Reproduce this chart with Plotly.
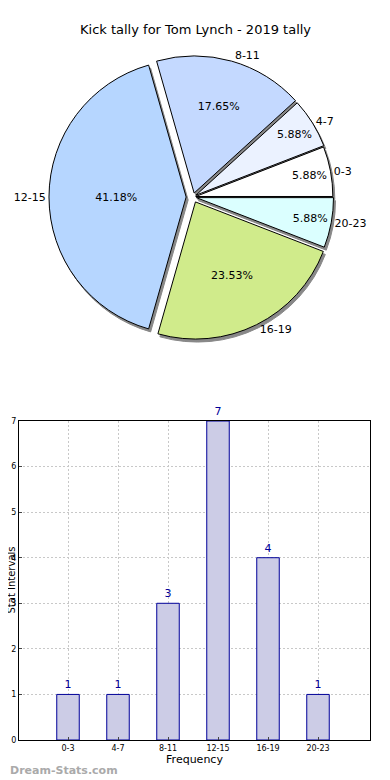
import plotly.graph_objects as go

categories = ["0-3", "4-7", "8-11", "12-15", "16-19", "20-23"]
counts = [1, 1, 3, 7, 4, 1]
y_ticks = [0, 1, 2, 3, 4, 5, 6, 7]

pie_colors = ["#FFFFFF", "#EBF2FF", "#C4D9FF", "#B6D6FF", "#D0EB8B", "#DBFFFF"]
pulls = [0.02, 0.025, 0.03, 0.05, 0.04, 0.025]

# The page body has an 8px default margin; size the figure to fit the 390x780 window.
OFF = 8
W, H = 390 - OFF, 780 - OFF
fnt = "DejaVu Sans"

def px(x):
    return (x - OFF) / W

def py(y):
    return 1 - (y - OFF) / H

rot = 90 - 360.0 * counts[0] / sum(counts)

cx, cy, r = 193, 197, 144
def dom(dx=0, dy=0):
    return dict(x=[px(cx - r + dx), px(cx + r + dx)],
                y=[py(cy + r + dy), py(cy - r + dy)])

common = dict(labels=categories, values=counts, sort=False, direction="counterclockwise",
              rotation=rot, pull=pulls)

fig = go.Figure()
# shadow
fig.add_trace(go.Pie(
    **common, domain=dom(2, 3),
    marker=dict(colors=["#888888"] * 6, line=dict(color="#888888", width=1)),
    textinfo="none", hoverinfo="skip", showlegend=False))
# main pie with percentages inside
fig.add_trace(go.Pie(
    **common, domain=dom(),
    marker=dict(colors=pie_colors, line=dict(color="#000000", width=1)),
    texttemplate="%{percent:.2%}", textposition="inside", insidetextorientation="horizontal",
    textfont=dict(family=fnt, size=11, color="#000000"), showlegend=False))
# labels outside
fig.add_trace(go.Pie(
    **common, domain=dom(),
    marker=dict(colors=["rgba(0,0,0,0)"] * 6, line=dict(width=0)),
    texttemplate="%{label}", textposition="outside",
    outsidetextfont=dict(family=fnt, size=11, color="#000000"),
    hoverinfo="skip", showlegend=False))

fig.add_trace(go.Bar(
    x=list(range(len(categories))), y=counts, width=0.45,
    marker=dict(color="#CCCCE6", line=dict(color="#000099", width=1)),
    text=[str(c) for c in counts], textposition="outside", cliponaxis=False,
    textfont=dict(family=fnt, size=11, color="#000099"),
    xaxis="x", yaxis="y", showlegend=False))

grid = dict(showgrid=True, gridcolor="#C8C8C8", griddash="2px,2px", gridwidth=1)

fig.update_layout(
    width=W, height=H, margin=dict(l=0, r=0, t=0, b=0, autoexpand=False),
    paper_bgcolor="white", plot_bgcolor="white",
    font=dict(family=fnt, color="#000000"),
    xaxis=dict(domain=[px(19), px(370)], range=[-0.98, 6.04], automargin=False,
               tickmode="array", tickvals=list(range(len(categories))), ticktext=categories,
               tickfont=dict(size=8), **grid,
               showline=True, linecolor="black", mirror=True, ticks="inside", ticklen=3,
               zeroline=False,
               title=dict(text="Frequency", font=dict(size=11), standoff=2)),
    yaxis=dict(domain=[py(740), py(421)], range=[0, 7], automargin=False,
               tickmode="array", tickvals=y_ticks, tickfont=dict(size=8), **grid,
               showline=True, linecolor="black", mirror=True, ticks="inside", ticklen=3,
               zeroline=False),
    annotations=[
        dict(text="Kick tally for Tom Lynch - 2019 tally", xref="paper", yref="paper",
             x=px(195), y=py(30), xanchor="center", yanchor="middle", showarrow=False,
             font=dict(family=fnt, size=13, color="#000000")),
        dict(text="Stat Intervals", xref="paper", yref="paper", textangle=-90,
             x=px(10.5), y=py(580), xanchor="center", yanchor="middle", showarrow=False,
             font=dict(family=fnt, size=10, color="#000000")),
        dict(text="<b>Dream-Stats.com</b>", xref="paper", yref="paper",
             x=0, y=py(770), xanchor="left", yanchor="middle", showarrow=False,
             font=dict(family=fnt, size=11, color="#AAAAAA"))],
)

fig.write_html("out.html")
